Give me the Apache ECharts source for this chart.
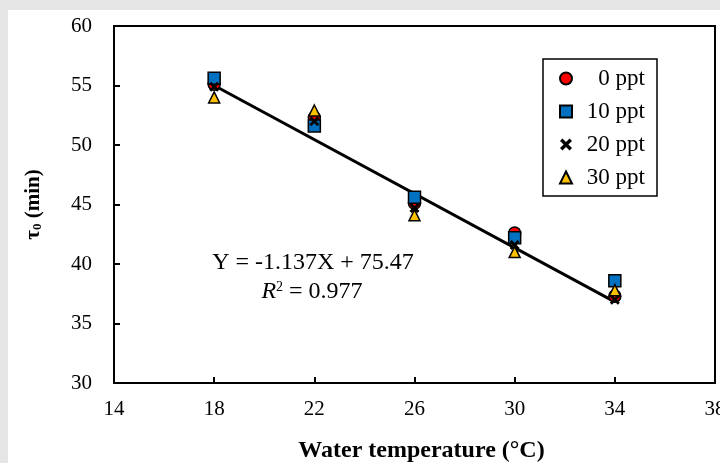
<!DOCTYPE html>
<html>
<head>
<meta charset="utf-8">
<script src="https://cdn.jsdelivr.net/npm/echarts@6/dist/echarts.min.js"></script>
<style>html,body{margin:0;padding:0;background:#e6e6e6;}#c{width:720px;height:463px;}</style>
</head>
<body>
<div id="c"></div>
<script>
const temps = [18, 22, 26, 30, 34];
const ppt0 = [55.1, 52.3, 45.1, 42.6, 37.3];
const ppt10 = [55.6, 51.6, 45.6, 42.2, 38.6];
const ppt20 = [54.9, 52.0, 44.7, 41.6, 37.0];
const ppt30 = [54.0, 52.9, 44.1, 41.0, 37.8];
const seriesNames = ['0 ppt', '10 ppt', '20 ppt', '30 ppt'];
const slope = -1.137, intercept = 75.47;
const fitRange = [18, 34];
const xTicks = [14, 18, 22, 26, 30, 34, 38];
const yTicks = [30, 35, 40, 45, 50, 55, 60];
const eqText = 'Y = -1.137X + 75.47';
const r2Text = '0.977';

const pair = arr => temps.map((t, i) => [t, arr[i]]);
const crossPath = 'path://M2,0L5,3L8,0L10,2L7,5L10,8L8,10L5,7L2,10L0,8L3,5L0,2Z';
const serif = '"Liberation Serif","DejaVu Serif",serif';

const chart = echarts.init(document.getElementById('c'));
chart.setOption({
  backgroundColor: '#e6e6e6',
  animation: false,
  graphic: [
    {type: 'rect', shape: {x: 8, y: 10, width: 712, height: 453}, style: {fill: '#fff'}, z: -10},
    {type: 'text', x: 313, y: 263, style: {text: eqText, font: '24px ' + serif, fill: '#000', align: 'center', verticalAlign: 'middle'}, z: 10},
    {type: 'text', x: 312, y: 292, style: {text: '{i|R}{s|2}{n| = ' + r2Text + '}', align: 'center', verticalAlign: 'middle',
      rich: {i: {fontFamily: serif, fontStyle: 'italic', fontSize: 24, color: '#000'},
             s: {fontFamily: serif, fontSize: 14, color: '#000', verticalAlign: 'top', padding: [0, 0, 8, 0]},
             n: {fontFamily: serif, fontSize: 24, color: '#000'}}}, z: 10}
  ],
  grid: {left: 114, right: 5, top: 26, bottom: 80, show: true, borderColor: '#000', borderWidth: 2, backgroundColor: 'transparent', containLabel: false, outerBoundsMode: 'none'},
  xAxis: {
    type: 'value', min: xTicks[0], max: xTicks[xTicks.length - 1], interval: 4,
    name: 'Water temperature (°C)', nameLocation: 'middle', nameGap: 56,
    nameTextStyle: {fontFamily: serif, fontSize: 24, fontWeight: 'bold', color: '#000', padding: [0, 0, 0, 14]},
    axisLine: {lineStyle: {color: '#000', width: 2}},
    axisTick: {inside: true, length: 6, lineStyle: {color: '#000', width: 2}},
    axisLabel: {fontFamily: serif, fontSize: 21, color: '#000', margin: 16},
    splitLine: {show: false}
  },
  yAxis: {
    type: 'value', min: yTicks[0], max: yTicks[yTicks.length - 1], interval: 5,
    name: '{a|τ}{s|0}{a| (min)}', nameLocation: 'middle', nameGap: 70, nameRotate: 90,
    nameTextStyle: {fontFamily: serif, fontSize: 21, fontWeight: 'bold', color: '#000',
      rich: {a: {fontFamily: serif, fontSize: 21, fontWeight: 'bold', color: '#000'},
             s: {fontFamily: serif, fontSize: 13, fontWeight: 'bold', color: '#000', verticalAlign: 'bottom', padding: [8, 0, 0, 0]}}},
    axisLine: {lineStyle: {color: '#000', width: 2}},
    axisTick: {inside: true, length: 6, lineStyle: {color: '#000', width: 2}},
    axisLabel: {fontFamily: serif, fontSize: 21, color: '#000', margin: 22},
    splitLine: {show: false}
  },
  legend: {
    left: 543, top: 59, orient: 'vertical',
    data: seriesNames,
    borderColor: '#000', borderWidth: 1.5, borderRadius: 0,
    padding: [8, 12, 7, 16], itemGap: 10, itemWidth: 12, itemHeight: 12,
    backgroundColor: '#fff',
    formatter: n => '{a|' + n + '}',
    textStyle: {fontFamily: serif, fontSize: 23, color: '#000', rich: {a: {width: 68, align: 'right', fontFamily: serif, fontSize: 23, lineHeight: 24, color: '#000'}}}
  },
  series: [
    {type: 'line', data: fitRange.map(x => [x, slope * x + intercept]), symbol: 'none', lineStyle: {color: '#000', width: 3}, z: 1, silent: true},
    {name: seriesNames[0], type: 'scatter', data: pair(ppt0), symbol: 'circle', symbolSize: 12, itemStyle: {color: '#ff0000', borderColor: '#000', borderWidth: 1.5, opacity: 1}, z: 3},
    {name: seriesNames[1], type: 'scatter', data: pair(ppt10), symbol: 'rect', symbolSize: 12, itemStyle: {color: '#0070c0', borderColor: '#000', borderWidth: 1.5, opacity: 1}, z: 3},
    {name: seriesNames[2], type: 'scatter', data: pair(ppt20), symbol: crossPath, symbolSize: 10, itemStyle: {color: '#000', opacity: 1}, z: 3},
    {name: seriesNames[3], type: 'scatter', data: pair(ppt30), symbol: 'triangle', symbolSize: 11, itemStyle: {color: '#ffc000', borderColor: '#000', borderWidth: 1.5, opacity: 1}, z: 3}
  ]
});
</script>
</body>
</html>
